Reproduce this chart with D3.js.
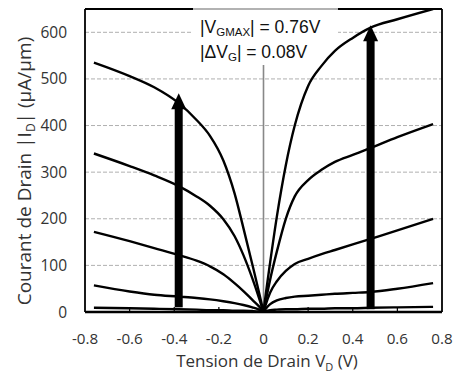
<!DOCTYPE html>
<html><head><meta charset="utf-8">
<script src="https://cdn.jsdelivr.net/npm/d3@7"></script>
<style>body{margin:0;background:#fff}svg{display:block}</style>
</head><body>
<script>
// Data
const vdPos = [0, 0.01, 0.03, 0.06, 0.1, 0.14, 0.2, 0.26, 0.32, 0.4, 0.48, 0.6, 0.76];
const idPos1 = [0, 38, 107, 205, 315, 400, 485, 528, 560, 588, 610, 628, 650];
const idPos2 = [0, 24, 70, 130, 200, 248, 283, 305, 322, 337, 352, 375, 403];
const idPos3 = [0, 16, 42, 66, 88, 103, 114, 124, 133, 145, 157, 175, 200];
const idPos4 = [0, 7, 17, 25, 30, 33, 35, 37, 39, 41, 43, 50, 62];
const idPos5 = [0, 2, 4, 5, 6, 6, 7, 7, 8, 8, 9, 10, 11];

const vdNeg = [0, -0.02, -0.05, -0.09, -0.13, -0.18, -0.24, -0.3, -0.38, -0.49, -0.6, -0.76];
const idNeg1 = [0, 42, 102, 180, 255, 325, 378, 412, 448, 482, 506, 535];
const idNeg2 = [0, 30, 72, 122, 163, 199, 228, 248, 270, 293, 313, 340];
const idNeg3 = [0, 12, 26, 45, 62, 81, 98, 110, 122, 137, 152, 172];
const idNeg4 = [0, 5, 10, 15, 19, 23, 27, 30, 33, 37, 44, 57];
const idNeg5 = [0, 1, 2, 3, 3, 4, 4, 5, 6, 7, 8, 9];

const arrowVd = [-0.38, 0.48];
const arrowFrom = [10, 6];
const arrowTo = [469, 615];

const xTicks = [-0.8, -0.6, -0.4, -0.2, 0, 0.2, 0.4, 0.6, 0.8];
const yTicks = [0, 100, 200, 300, 400, 500, 600];
const gridVals = [100, 200, 300, 400, 500, 600];

const W = 457, H = 376;
const L = 85, R = 442, T = 9, B = 312;

const svg = d3.select("body").append("svg").attr("width", W).attr("height", H);
const x = d3.scaleLinear().domain([-0.8, 0.8]).range([L, R]);
const y = d3.scaleLinear().domain([0, 650]).range([B, T]);

// gridlines
svg.append("g").selectAll("line").data(gridVals).join("line")
  .attr("x1", L).attr("x2", R).attr("y1", d => y(d)).attr("y2", d => y(d))
  .attr("stroke", "#b0b0b0").attr("stroke-width", 1).attr("stroke-dasharray", "4,2");

// text box (white) covering part of grid
svg.append("rect").attr("x", 193).attr("y", T + 1).attr("width", 145).attr("height", 54).attr("fill", "#fff");

// vertical line at 0
svg.append("line").attr("x1", x(0)).attr("x2", x(0)).attr("y1", 65).attr("y2", B)
  .attr("stroke", "#888").attr("stroke-width", 1.6);

// curves
const line = d3.line().x(d => x(d[0])).y(d => y(d[1])).curve(d3.curveMonotoneX);
const posSeries = [idPos1, idPos2, idPos3, idPos4, idPos5];
const negSeries = [idNeg1, idNeg2, idNeg3, idNeg4, idNeg5];
const curves = [];
posSeries.forEach(s => curves.push(vdPos.map((v, i) => [v, s[i]])));
negSeries.forEach(s => curves.push(vdNeg.map((v, i) => [v, s[i]]).reverse()));
svg.append("defs").append("clipPath").attr("id", "clip")
  .append("rect").attr("x", L).attr("y", T).attr("width", R - L).attr("height", B - T);
svg.append("g").attr("clip-path", "url(#clip)").selectAll("path").data(curves).join("path")
  .attr("d", line).attr("fill", "none").attr("stroke", "#000").attr("stroke-width", 2.4);

// arrows
const headH = 16, headW = 15, shaftW = 8;
arrowVd.forEach((v, i) => {
  const cx = x(v), y0 = y(arrowFrom[i]), y1 = y(arrowTo[i]);
  svg.append("rect").attr("x", cx - shaftW / 2).attr("y", y1 + headH - 1)
    .attr("width", shaftW).attr("height", y0 - (y1 + headH - 1)).attr("fill", "#000");
  svg.append("path").attr("d", `M${cx},${y1} L${cx + headW / 2},${y1 + headH} L${cx - headW / 2},${y1 + headH} Z`)
    .attr("fill", "#000");
});

// frame
svg.append("line").attr("x1", L).attr("x2", L).attr("y1", T).attr("y2", B).attr("stroke", "#000").attr("stroke-width", 1.8);
svg.append("line").attr("x1", R).attr("x2", R).attr("y1", T).attr("y2", B).attr("stroke", "#000").attr("stroke-width", 1.8);
svg.append("line").attr("x1", L).attr("x2", 193).attr("y1", T).attr("y2", T).attr("stroke", "#000").attr("stroke-width", 1.8);
svg.append("line").attr("x1", 193).attr("x2", 338).attr("y1", T).attr("y2", T).attr("stroke", "#666").attr("stroke-width", 1.2);
svg.append("line").attr("x1", 338).attr("x2", R).attr("y1", T).attr("y2", T).attr("stroke", "#000").attr("stroke-width", 1.8);
svg.append("line").attr("x1", L).attr("x2", R).attr("y1", B).attr("y2", B).attr("stroke", "#000").attr("stroke-width", 2.4);

// x ticks (inside, upward)
svg.append("g").selectAll("line").data(xTicks.filter(d => Math.abs(d) < 0.79 && d !== 0)).join("line")
  .attr("x1", d => x(d)).attr("x2", d => x(d)).attr("y1", B).attr("y2", B - 5)
  .attr("stroke", "#000").attr("stroke-width", 1.2);

const font = "'Open Sans', sans-serif";
// x tick labels
svg.append("g").selectAll("text").data(xTicks).join("text")
  .attr("x", d => x(d)).attr("y", 344).attr("text-anchor", "middle")
  .attr("font-family", font).attr("font-size", 15.2).attr("fill", "#333")
  .text(d => d === 0 ? "0" : d3.format(".1f")(d).replace("−", "-"));
// y tick labels
svg.append("g").selectAll("text").data(yTicks).join("text")
  .attr("x", 67).attr("y", d => y(d) + 5.5).attr("text-anchor", "end")
  .attr("font-family", font).attr("font-size", 15.5).attr("fill", "#333")
  .text(d => d);

// x title
const xt = svg.append("text").attr("x", 267).attr("y", 367).attr("text-anchor", "middle")
  .attr("font-family", font).attr("font-size", 17).attr("fill", "#333");
xt.append("tspan").text("Tension de Drain V");
xt.append("tspan").attr("font-size", 11).attr("dy", 4).text("D");
xt.append("tspan").attr("dy", -4).text(" (V)");

// y title
const yt = svg.append("text").attr("transform", "translate(31,171) rotate(-90)").attr("text-anchor", "middle")
  .attr("font-family", font).attr("font-size", 19).attr("fill", "#333");
yt.append("tspan").text("Courant de Drain |I");
yt.append("tspan").attr("font-size", 12).attr("dy", 4).text("D");
yt.append("tspan").attr("dy", -4).text("| (µA/µm)");

// annotation
const af = "'Liberation Sans', Arial, sans-serif";
const a1 = svg.append("text").attr("x", 200).attr("y", 33).attr("font-family", af).attr("font-size", 17.5).attr("fill", "#111");
a1.append("tspan").text("|V");
a1.append("tspan").attr("font-size", 11.5).attr("dy", 3).text("GMAX");
a1.append("tspan").attr("dy", -3).text("| = 0.76V");
const a2 = svg.append("text").attr("x", 200).attr("y", 58).attr("font-family", af).attr("font-size", 17.5).attr("fill", "#111");
a2.append("tspan").text("|ΔV");
a2.append("tspan").attr("font-size", 11.5).attr("dy", 3).text("G");
a2.append("tspan").attr("dy", -3).text("| = 0.08V");
</script>
</body></html>
